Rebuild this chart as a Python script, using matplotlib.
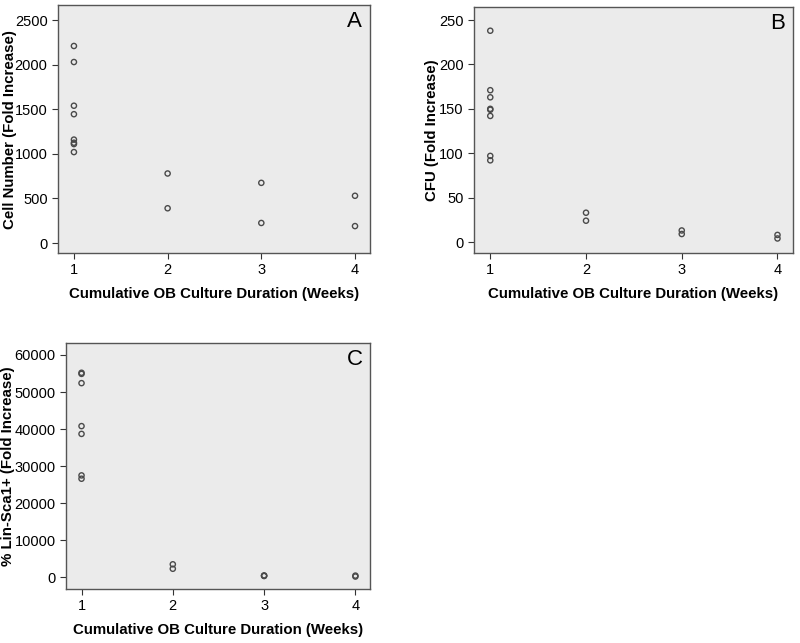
import matplotlib
matplotlib.use("Agg")
import matplotlib.pyplot as plt

plt.rcParams["font.family"] = ["Liberation Sans", "DejaVu Sans"]

# panel A: cell number fold increase
a_weeks = [1, 1, 1, 1, 1, 1, 1, 1, 2, 2, 3, 3, 4, 4]
a_vals = [2210, 2030, 1540, 1445, 1160, 1125, 1110, 1020, 780, 390, 675, 225, 530, 190]

# panel B: CFU fold increase
b_weeks = [1, 1, 1, 1, 1, 1, 1, 1, 2, 2, 3, 3, 4, 4]
b_vals = [238, 171, 163, 150, 149, 142, 97, 92, 33, 24, 13, 9, 8, 4]

# panel C: % Lin-Sca1+ fold increase
c_weeks = [1, 1, 1, 1, 1, 1, 1, 2, 2, 3, 3, 3, 4, 4]
c_vals = [55200, 54900, 52400, 40800, 38700, 27500, 26600, 3500, 2300, 500, 400, 350, 450, 200]

xlabel = "Cumulative OB Culture Duration (Weeks)"
bg = "#ebebeb"
edge = "#4a4a4a"


def panel(ax, x, y, ylabel, letter, ylim, yticks, ylab_x):
    ax.set_facecolor(bg)
    ax.scatter(x, y, s=14, facecolors="none", edgecolors=edge, linewidths=1.0)
    ax.set_xlim(0.83, 4.16)
    ax.set_ylim(*ylim)
    ax.set_xticks([1, 2, 3, 4])
    ax.set_yticks(yticks)
    ax.tick_params(labelsize=10.5, length=4, color="#333333", top=False, right=False)
    ax.set_xlabel(xlabel, fontsize=10.8, fontweight="bold", labelpad=7)
    ax.set_ylabel(ylabel, fontsize=10.8, fontweight="bold")
    ax.yaxis.set_label_coords(ylab_x, 0.5)
    for s in ax.spines.values():
        s.set_color("#555555")
        s.set_linewidth(1.0)
    ax.text(0.975, 0.975, letter, transform=ax.transAxes, ha="right", va="top", fontsize=16)


fig = plt.figure(figsize=(8, 6.43), dpi=100)
ax_a = fig.add_axes([0.0725, 0.6065, 0.39, 0.3855])
ax_b = fig.add_axes([0.5925, 0.6065, 0.3985, 0.383])
ax_c = fig.add_axes([0.0825, 0.084, 0.38, 0.3826])

panel(ax_a, a_weeks, a_vals, "Cell Number (Fold Increase)", "A", (-112, 2668),
      [0, 500, 1000, 1500, 2000, 2500], -0.131)
panel(ax_b, b_weeks, b_vals, "CFU (Fold Increase)", "B", (-12.4, 265),
      [0, 50, 100, 150, 200, 250], -0.11)
panel(ax_c, c_weeks, c_vals, "% Lin-Sca1+ (Fold Increase)", "C", (-3160, 63240),
      [0, 10000, 20000, 30000, 40000, 50000, 60000], -0.168)

fig.savefig("out.png", dpi=100)
